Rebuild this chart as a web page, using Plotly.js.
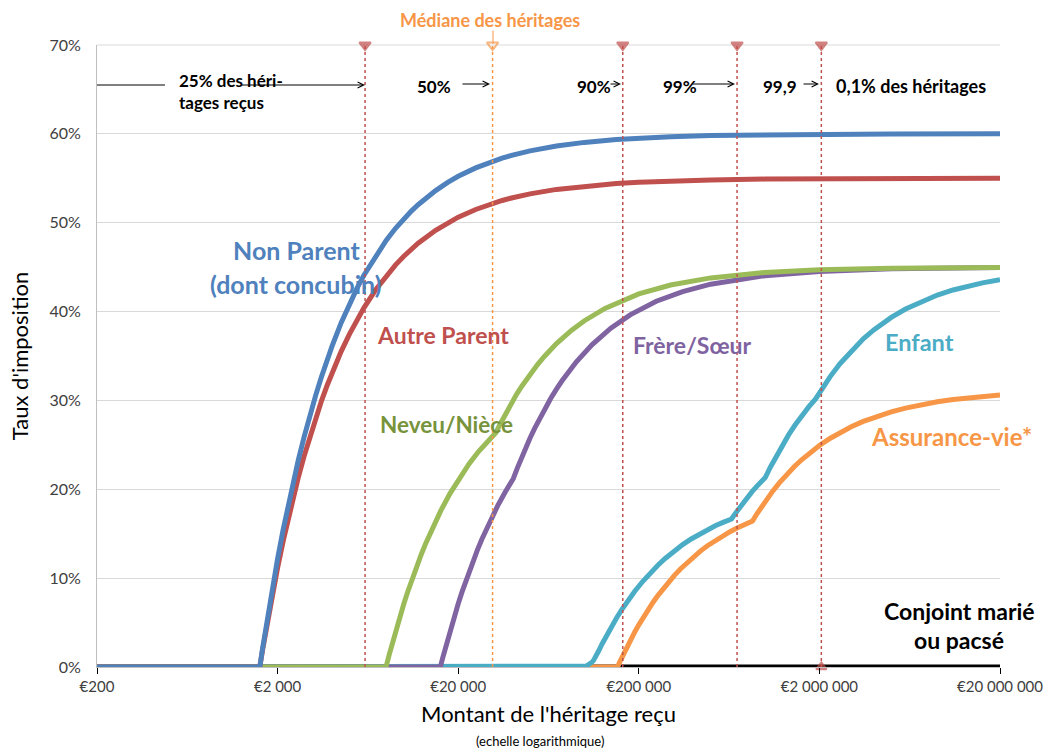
<!DOCTYPE html>
<html>
<head>
<meta charset="utf-8">
<script src="https://cdn.plot.ly/plotly-3.0.1.min.js"></script>
<style>
html,body{margin:0;padding:0;background:#fff;}
#chart{width:1053px;height:751px;}
</style>
</head>
<body>
<div id="chart"></div>
<script>
// ---------- DATA ----------
const xTickValues = [200, 2000, 20000, 200000, 2000000, 20000000];
const xTickLabels = ["€200", "€2 000", "€20 000", "€200 000", "€2 000 000", "€20 000 000"];

const nonParentX = [200, 1594, 1650, 1700, 1750, 1800, 1900, 2000, 2150, 2300, 2450, 2600, 2800, 3000, 3250, 3500, 3750, 4000, 4500, 5000, 5500, 6000, 7000, 8000, 9000, 10000, 11000, 12000, 15000, 17500, 20000, 25000, 30000, 35000, 40000, 50000, 70000, 100000, 150000, 200000, 300000, 500000, 1000000, 2000000, 5000000, 20000000];
const nonParentY = [0, 0, 0.0204, 0.0374, 0.0535, 0.0687, 0.0966, 0.1218, 0.1552, 0.1842, 0.2096, 0.2322, 0.2584, 0.2812, 0.3057, 0.3267, 0.3450, 0.3609, 0.3875, 0.4087, 0.4261, 0.4406, 0.4634, 0.4804, 0.4937, 0.5044, 0.5131, 0.5203, 0.5362, 0.5453, 0.5522, 0.5617, 0.5681, 0.5727, 0.5761, 0.5809, 0.5863, 0.5904, 0.5936, 0.5952, 0.5968, 0.5981, 0.5990, 0.5995, 0.5998, 0.6000];

const autreParentX = [200, 1594, 1650, 1700, 1750, 1800, 1900, 2000, 2150, 2300, 2450, 2600, 2800, 3000, 3250, 3500, 3750, 4000, 4500, 5000, 5500, 6000, 7000, 8000, 9000, 10000, 11000, 12000, 15000, 17500, 20000, 25000, 30000, 35000, 40000, 50000, 70000, 100000, 150000, 200000, 300000, 500000, 1000000, 2000000, 5000000, 20000000];
const autreParentY = [0, 0, 0.0187, 0.0343, 0.0490, 0.0629, 0.0886, 0.1117, 0.1422, 0.1689, 0.1922, 0.2128, 0.2369, 0.2578, 0.2802, 0.2995, 0.3162, 0.3308, 0.3552, 0.3747, 0.3906, 0.4039, 0.4248, 0.4404, 0.4526, 0.4623, 0.4703, 0.4770, 0.4915, 0.4999, 0.5062, 0.5149, 0.5208, 0.5250, 0.5281, 0.5325, 0.5375, 0.5413, 0.5442, 0.5456, 0.5471, 0.5482, 0.5491, 0.5496, 0.5498, 0.5500];

const neveuX = [200, 7967, 8300, 8600, 9000, 9500, 10000, 10500, 11000, 11700, 12500, 13200, 14000, 15000, 16000, 18000, 20000, 23000, 26000, 29000, 32397, 34000, 36000, 38000, 40000, 42000, 45000, 50000, 55000, 60000, 70000, 85000, 100000, 130000, 170000, 200000, 300000, 500000, 1000000, 2000000, 5000000, 20000000];
const neveuY = [0, 0, 0.0140, 0.0258, 0.0402, 0.0565, 0.0712, 0.0844, 0.0965, 0.1117, 0.1269, 0.1388, 0.1508, 0.1641, 0.1757, 0.1951, 0.2106, 0.2288, 0.2428, 0.2538, 0.2639, 0.2727, 0.2826, 0.2914, 0.2993, 0.3065, 0.3160, 0.3294, 0.3404, 0.3495, 0.3639, 0.3791, 0.3897, 0.4036, 0.4145, 0.4199, 0.4299, 0.4379, 0.4440, 0.4470, 0.4488, 0.4497];

const frereX = [200, 15932, 16400, 16700, 17000, 17500, 18000, 18500, 19000, 20000, 21000, 22000, 23000, 24000, 25500, 27000, 28500, 30000, 33000, 36500, 40362, 42500, 45000, 47500, 50000, 53000, 57000, 61000, 65000, 70000, 75000, 90000, 110000, 140000, 180000, 250000, 350000, 500000, 1000000, 2000000, 5000000, 20000000];
const frereY = [0, 0, 0.0100, 0.0161, 0.0220, 0.0314, 0.0402, 0.0486, 0.0565, 0.0712, 0.0845, 0.0965, 0.1076, 0.1177, 0.1313, 0.1435, 0.1543, 0.1641, 0.1810, 0.1972, 0.2119, 0.2238, 0.2364, 0.2476, 0.2578, 0.2686, 0.2814, 0.2924, 0.3021, 0.3127, 0.3218, 0.3432, 0.3626, 0.3813, 0.3966, 0.4116, 0.4225, 0.4308, 0.4404, 0.4452, 0.4481, 0.4495];

const enfantX = [200, 100000, 102000, 104000, 106000, 108072, 110000, 112109, 114000, 115932, 120000, 125000, 132000, 140000, 150000, 160000, 175000, 190000, 210000, 230000, 255000, 280000, 315000, 350000, 390000, 430000, 480000, 530000, 590000, 652324, 685000, 720000, 760000, 800000, 850000, 900000, 950000, 1002838, 1070000, 1150000, 1250000, 1350000, 1470000, 1600000, 1750000, 1905677, 2100000, 2300000, 2600000, 3000000, 3500000, 4000000, 5000000, 6000000, 7500000, 9000000, 11000000, 13000000, 16000000, 20000000];
const enfantY = [0, 0, 0.0010, 0.0019, 0.0028, 0.0037, 0.0054, 0.0072, 0.0096, 0.0119, 0.0183, 0.0256, 0.0348, 0.0442, 0.0546, 0.0637, 0.0754, 0.0852, 0.0962, 0.1052, 0.1145, 0.1221, 0.1308, 0.1377, 0.1441, 0.1493, 0.1546, 0.1589, 0.1630, 0.1666, 0.1729, 0.1791, 0.1855, 0.1912, 0.1976, 0.2033, 0.2084, 0.2132, 0.2249, 0.2371, 0.2501, 0.2612, 0.2726, 0.2829, 0.2930, 0.3017, 0.3154, 0.3271, 0.3413, 0.3558, 0.3693, 0.3793, 0.3935, 0.4029, 0.4123, 0.4186, 0.4243, 0.4283, 0.4323, 0.4359];

const assuranceX = [200, 152500, 157000, 161000, 165000, 172000, 180000, 190000, 200000, 212000, 225000, 240000, 255000, 272000, 290000, 315000, 340000, 370000, 400000, 440000, 480000, 530000, 580000, 640000, 700000, 770000, 852500, 900000, 950000, 1020000, 1100000, 1200000, 1300000, 1450000, 1600000, 1800000, 2000000, 2300000, 2600000, 3000000, 3500000, 4200000, 5000000, 6000000, 7500000, 9000000, 11000000, 14000000, 20000000];
const assuranceY = [0, 0, 0.0057, 0.0106, 0.0152, 0.0227, 0.0306, 0.0395, 0.0475, 0.0561, 0.0644, 0.0729, 0.0804, 0.0879, 0.0948, 0.1032, 0.1103, 0.1176, 0.1238, 0.1307, 0.1365, 0.1425, 0.1474, 0.1523, 0.1564, 0.1604, 0.1642, 0.1721, 0.1794, 0.1886, 0.1976, 0.2072, 0.2153, 0.2253, 0.2335, 0.2423, 0.2493, 0.2575, 0.2639, 0.2704, 0.2764, 0.2824, 0.2872, 0.2914, 0.2956, 0.2985, 0.3010, 0.3035, 0.3062];

const conjointX = [200, 20000000];
const conjointY = [0, 0];

// percentile markers (25%, median, 90%, 99%, 99.9%)
const percentileValues = [6100, 31000, 163000, 700000, 2050000];
const percentileNames = ["25%", "50%", "90%", "99%", "99,9"];

// ---------- STYLE ----------
const FONT = "Lato, 'Open Sans', sans-serif";
const C = {
  blue: "#4F81BD", red: "#C0504D", green: "#9BBB59", purple: "#8064A2",
  teal: "#4BACC6", orange: "#F79646"
};
const L = 97, R = 1000, T = 45, B = 667;
const px = v => (v - L) / (R - L);
const py = v => (B - v) / (B - T);

function curve(x, y, color) {
  return {x: x, y: y, type: "scatter", mode: "lines",
          line: {color: color, width: 5, shape: "linear"},
          hoverinfo: "skip", cliponaxis: false};
}

const traces = [
  curve(conjointX, conjointY, "#000000"),
  curve(assuranceX, assuranceY, C.orange),
  curve(enfantX, enfantY, C.teal),
  curve(frereX, frereY, C.purple),
  curve(neveuX, neveuY, C.green),
  curve(autreParentX, autreParentY, C.red),
  curve(nonParentX, nonParentY, C.blue)
];

percentileValues.forEach((v, i) => {
  const isMedian = i === 1;
  const col = isMedian ? C.orange : C.red;
  traces.push({
    x: [v, v], y: [0, 0.7], type: "scatter", mode: "lines+markers",
    line: {color: col, width: 1.5, dash: "dot"},
    marker: {symbol: ["triangle-up", isMedian ? "triangle-down-open" : "triangle-down"],
             size: [i === 4 ? 9 : 0, 10], color: col, line: {color: col, width: 2}},
    hoverinfo: "skip", cliponaxis: false
  });
});

function txt(text, x, y, color, size, opts) {
  return Object.assign({
    text: text, xref: "paper", yref: "paper", x: px(x), y: py(y),
    showarrow: false, font: {family: FONT, size: size, color: color, weight: "bold"},
    xanchor: "center", yanchor: "middle"
  }, opts || {});
}
function arrow(xHead, yHead, ax, ay, color, head) {
  return {
    text: "", xref: "paper", yref: "paper", x: px(xHead), y: py(yHead),
    ax: ax, ay: ay, showarrow: true, arrowhead: head, arrowsize: 1.2,
    arrowwidth: 1, arrowcolor: color
  };
}

const annotations = [
  txt("Médiane des héritages", 490, 20, C.orange, 18),
  arrow(493, 44, 0, -15, C.orange, 0),
  txt("25% des héri-<br>tages reçus", 177, 91, "#000", 17, {xanchor: "left", align: "left"}),
  arrow(365, 85, -125, 0, "#000", 5),
  txt("50%", 415, 86, "#000", 17, {xanchor: "left"}),
  arrow(490, 84, -29, 0, "#000", 5),
  txt("90%", 575, 86, "#000", 17, {xanchor: "left"}),
  arrow(621, 84, -12, 0, "#000", 5),
  txt("99%", 661, 86, "#000", 17, {xanchor: "left"}),
  arrow(735, 84, -44, 0, "#000", 5),
  txt("99,9", 761, 86, "#000", 17, {xanchor: "left"}),
  arrow(819, 84, -17, 0, "#000", 5),
  txt("0,1% des héritages", 834, 86, "#000", 18, {xanchor: "left"}),

  txt("Non Parent", 296, 250, C.blue, 25),
  txt("(dont concubin)", 296, 284, C.blue, 25),
  txt("Autre Parent", 443, 335, C.red, 23),
  txt("Neveu/Nièce", 446, 424, "#77933C", 22.5),
  txt("Frère/Sœur", 692, 345, "#7F63A1", 23),
  txt("Enfant", 919, 342, C.teal, 23.5),
  txt("Assurance-vie*", 951, 437, C.orange, 24),
  txt("Conjoint marié", 959, 611, "#000", 23),
  txt("ou pacsé", 959, 640, "#000", 23),

  {text: "(echelle logarithmique)", xref: "paper", yref: "paper", x: px(540), y: py(741),
   showarrow: false, font: {family: FONT, size: 13, color: "#000"}, xanchor: "center", yanchor: "middle"}
];

const shapes = [
  {type: "line", xref: "paper", yref: "paper", x0: 0, x1: 1, y0: 1, y1: 1,
   line: {color: "#d9d9d9", width: 1}, layer: "below"},
  {type: "line", xref: "paper", yref: "paper", x0: px(97), x1: px(165), y0: py(85), y1: py(85),
   line: {color: "#000", width: 1}}
];

const layout = {
  width: 1053, height: 751,
  margin: {l: L, r: 1053 - R, t: T, b: 751 - B},
  paper_bgcolor: "#fff", plot_bgcolor: "#fff",
  showlegend: false, hovermode: false,
  font: {family: FONT, color: "#595959"},
  xaxis: {
    type: "log", range: [Math.log10(200), Math.log10(20000000)],
    tickvals: xTickValues, ticktext: xTickLabels,
    ticks: "outside", ticklen: 6, tickcolor: "#000", tickwidth: 1,
    showline: true, linecolor: "#bfbfbf", linewidth: 1,
    showgrid: false, zeroline: false,
    tickfont: {family: FONT, size: 15, color: "#404040"},
    title: {text: "Montant de l'héritage reçu", font: {family: FONT, size: 22, color: "#000"}, standoff: 12}
  },
  yaxis: {
    range: [0, 0.7], dtick: 0.1, tickformat: ".0%",
    showgrid: true, gridcolor: "#d9d9d9", gridwidth: 1,
    showline: true, linecolor: "#bfbfbf", linewidth: 1,
    zeroline: false, ticks: "", ticklabelstandoff: 12,
    tickfont: {family: FONT, size: 16, color: "#404040"},
    title: {text: "Taux d'imposition", font: {family: FONT, size: 22, color: "#000"}, standoff: 14}
  },
  annotations: annotations,
  shapes: shapes
};

Plotly.newPlot("chart", traces, layout, {staticPlot: true, displayModeBar: false});
</script>
</body>
</html>
